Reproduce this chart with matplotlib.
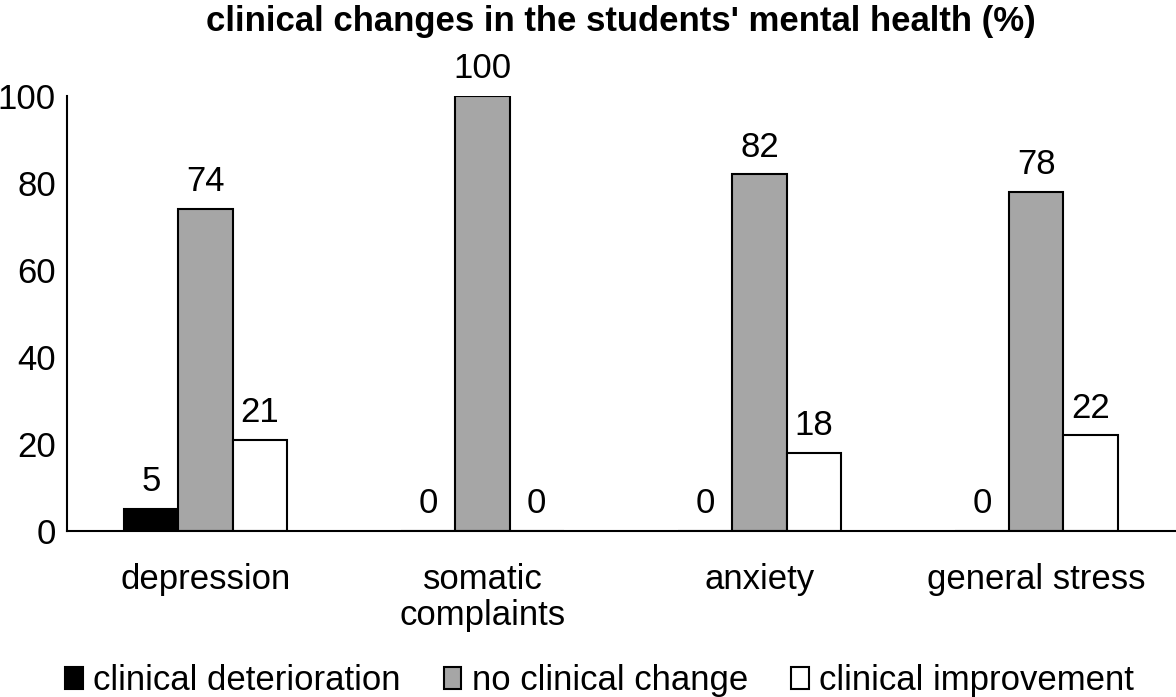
import numpy as np
import matplotlib
matplotlib.use('Agg')
import matplotlib.pyplot as plt

plt.rcParams['font.family'] = ['Liberation Sans', 'DejaVu Sans']

categories = ['depression', 'somatic\ncomplaints', 'anxiety', 'general stress']
series = ['clinical deterioration', 'no clinical change', 'clinical improvement']
deterioration = [5, 0, 0, 0]
no_change = [74, 100, 82, 78]
improvement = [21, 0, 18, 22]
colors = ['#000000', '#a6a6a6', '#ffffff']

fig = plt.figure(figsize=(11.76, 6.97), dpi=100)
ax = fig.add_axes([0.057, 0.238, 0.942, 0.624])

x = np.arange(len(categories))
w = 0.196
for i, (vals, c, lab) in enumerate(zip([deterioration, no_change, improvement], colors, series)):
    pos = x + (i - 1) * w
    bars = ax.bar(pos, vals, w, color=c, edgecolor='black', linewidth=1.5, label=lab)
    for p, v in zip(pos, vals):
        ax.text(p, v + 2.5, str(v), ha='center', va='bottom', fontsize=25)

ax.set_xlim(-0.5, len(categories) - 0.5)
ax.set_ylim(0, 100)
ax.set_yticks(range(0, 101, 20))
ax.set_xticks(x)
ax.set_xticklabels(categories, fontsize=25, linespacing=1.12)
ax.tick_params(axis='y', labelsize=25, length=0, pad=8)
ax.tick_params(axis='x', length=0, pad=23)
for s in ['top', 'right']:
    ax.spines[s].set_visible(False)
ax.spines['left'].set_linewidth(1.5)
ax.spines['bottom'].set_linewidth(1.5)

ax.set_title("clinical changes in the students' mental health (%)", fontsize=25,
             fontweight='bold', pad=47)

fig.legend(loc='lower center', bbox_to_anchor=(0.51, -0.045), ncol=3, frameon=False,
           fontsize=25, handlelength=0.5, handleheight=0.6, handletextpad=0.3,
           columnspacing=1.25)

fig.savefig('out.png', dpi=100)
